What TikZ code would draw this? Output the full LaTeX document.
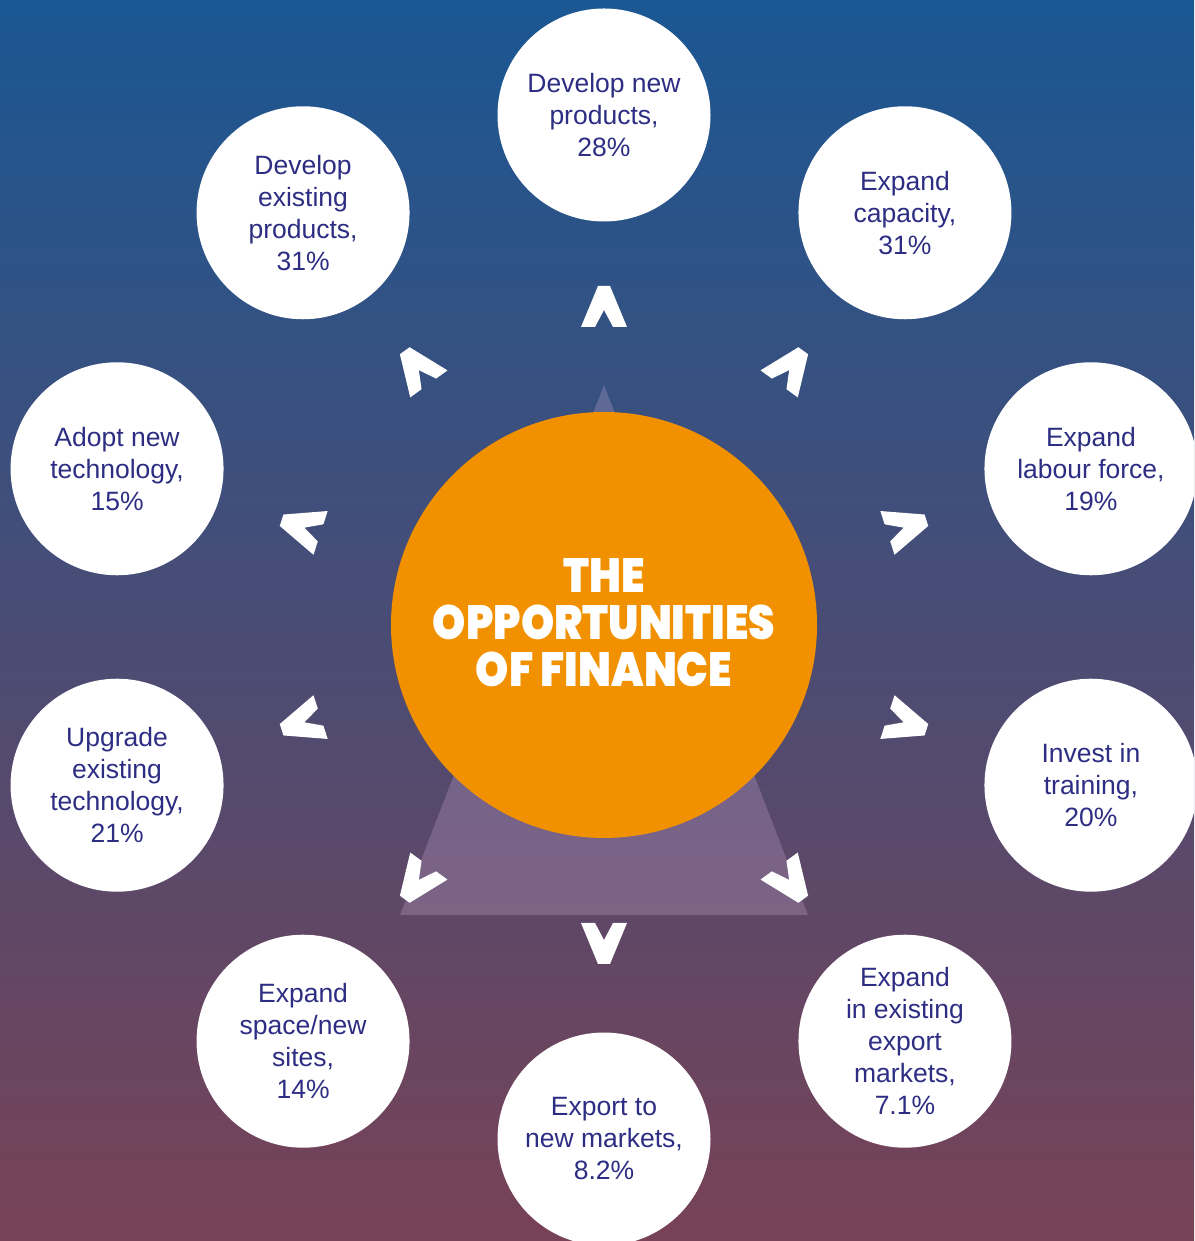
\documentclass[tikz,border=0pt]{standalone}
\usepackage{fontspec}
\setmainfont{Liberation Sans}
\newfontfamily\titlefont{Poppins}[BoldFont={Poppins Black}]
\definecolor{bgtop}{HTML}{1A5793}
\definecolor{bgmid}{HTML}{4E5179}
\definecolor{bgbot}{HTML}{784257}
\definecolor{hub}{HTML}{F29100}
\definecolor{ink}{HTML}{2D2E83}
\definecolor{tri}{RGB}{215,180,220}
\tikzset{
  x=1pt, y=1pt,
  bub/.style={circle, fill=white, minimum size=213pt, inner sep=0pt, align=center,
    text=ink, font=\fontsize{26.5}{32}\selectfont},
  ttl/.style={anchor=base, text=white, inner sep=0pt, xscale=0.88, transform shape,
    font=\titlefont\bfseries\fontsize{48}{48}\selectfont},
  chev/.style={fill=white}
}
\begin{document}
\begin{tikzpicture}
\useasboundingbox (0,0) rectangle (1194,1241);
\clip (0,0) rectangle (1194,1241);
\shade[top color=bgtop, middle color=bgmid, bottom color=bgbot] (0,0) rectangle (1194,1241);
\coordinate (C) at (604,614);
% translucent triangle
\fill[tri, fill opacity=0.25] (604,856) -- (808,326) -- (400,326) -- cycle;
% hub
\node[circle, fill=hub, minimum size=426pt, inner sep=0pt] (hub) at (604,616) {};
\node[ttl] (t1) at (604,648) {THE};
\node[ttl] (t2) at (604,601) {OPPORTUNITIES};
\node[ttl] (t3) at (604,554) {OF FINANCE};
% outer bubbles
\node[bub] (b1) at ([shift={(90:512)}]C) {Develop new\\products,\\28\%};
\node[bub] (b2) at ([shift={(54:512)}]C) {Expand\\capacity,\\31\%};
\node[bub] (b3) at ([shift={(18:512)}]C) {Expand\\labour force,\\19\%};
\node[bub] (b4) at ([shift={(-18:512)}]C) {Invest in\\training,\\20\%};
\node[bub] (b5) at ([shift={(-54:512)}]C) {Expand\\in existing\\export\\markets,\\7.1\%};
\node[bub] (b6) at ([shift={(-90:512)}]C) {Export to\\new markets,\\8.2\%};
\node[bub] (b7) at ([shift={(-126:512)}]C) {Expand\\space/new\\sites,\\14\%};
\node[bub] (b8) at ([shift={(-162:512)}]C) {Upgrade\\existing\\technology,\\21\%};
\node[bub] (b9) at ([shift={(162:512)}]C) {Adopt new\\technology,\\15\%};
\node[bub] (b10) at ([shift={(126:512)}]C) {Develop\\existing\\products,\\31\%};
% chevrons
\foreach \a in {90,54,18,-18,-54,-90,-126,-162,162,126}{
  \begin{scope}[shift={(604,616)}, rotate=\a-90]
    \fill[chev] (-6,339) -- (6,339) -- (23,298) -- (9,298) -- (0,315) -- (-9,298) -- (-23,298) -- cycle;
  \end{scope}
}
\end{tikzpicture}
\end{document}
